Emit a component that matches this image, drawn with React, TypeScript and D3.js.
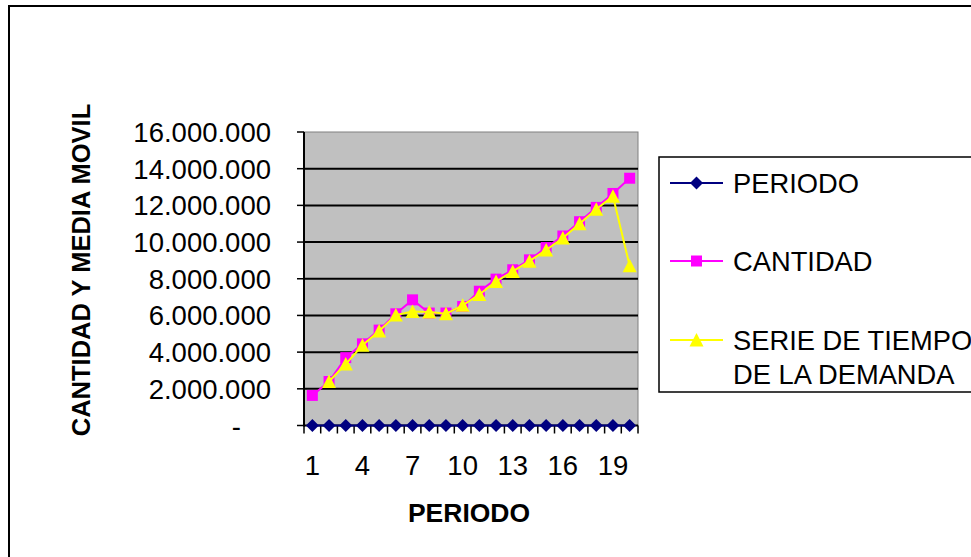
import React from "react";
import * as d3 from "d3";

const periods = [1, 2, 3, 4, 5, 6, 7, 8, 9, 10, 11, 12, 13, 14, 15, 16, 17, 18, 19, 20];
const periodoValues = [1, 2, 3, 4, 5, 6, 7, 8, 9, 10, 11, 12, 13, 14, 15, 16, 17, 18, 19, 20];
const cantidad = [
  1640000, 2400000, 3700000, 4450000, 5200000, 6090000, 6850000, 6130000, 6130000, 6490000,
  7320000, 7980000, 8490000, 9030000, 9700000, 10330000, 11110000, 11890000, 12650000, 13480000,
];
const serieTiempo: (number | null)[] = [
  null, 2400000, 3350000, 4370000, 5150000, 6020000, 6220000, 6190000, 6090000, 6550000,
  7140000, 7850000, 8400000, 8960000, 9570000, 10220000, 11000000, 11790000, 12500000, 8710000,
];
const yTicks = [0, 2000000, 4000000, 6000000, 8000000, 10000000, 12000000, 14000000, 16000000];
const xTickLabels = [1, 4, 7, 10, 13, 16, 19];
const legendLabels = [["PERIODO"], ["CANTIDAD"], ["SERIE DE TIEMPO", "DE LA DEMANDA"]];
const yTitle = "CANTIDAD Y MEDIA MOVIL";
const xTitle = "PERIODO";

const FONT = "'Liberation Sans', Arial, sans-serif";
const NAVY = "#000080";
const MAGENTA = "#FF00FF";
const YELLOW = "#FFFF00";

const locale = d3.formatLocale({ decimal: ",", thousands: ".", grouping: [3], currency: ["", ""] });
const fmt = locale.format(",d");

const diamond = (x: number, y: number) => `M${x},${y - 6.5}L${x + 6.5},${y}L${x},${y + 6.5}L${x - 6.5},${y}Z`;
const square = (x: number, y: number) => `M${x - 5.5},${y - 5.5}h11v11h-11Z`;
const triangle = (x: number, y: number) => `M${x},${y - 7}L${x + 7},${y + 6.5}L${x - 7},${y + 6.5}Z`;

export default function App() {
  const L = 304, R = 638, T = 132, B = 425.5;
  const x = d3.scaleBand<number>().domain(periods).range([L, R]).paddingInner(0).paddingOuter(0);
  const cx = (p: number) => (x(p) as number) + x.bandwidth() / 2;
  const y = d3.scaleLinear().domain([0, 16000000]).range([B, T]);

  const line = d3
    .line<[number, number | null]>()
    .defined((d) => d[1] !== null)
    .x((d) => cx(d[0]))
    .y((d) => y(d[1] as number));

  const pData = periods.map((p, i) => [p, periodoValues[i]] as [number, number | null]);
  const cData = periods.map((p, i) => [p, cantidad[i]] as [number, number | null]);
  const sData = periods.map((p, i) => [p, serieTiempo[i]] as [number, number | null]);

  const boundaries = periods.map((p) => x(p) as number).concat([R]);

  const legX1 = 670, legX2 = 723, legTextX = 733;
  const legRows = [183, 261, 340];
  const legMarkers = [diamond, square, triangle];
  const legColors = [NAVY, MAGENTA, YELLOW];

  return (
    <svg
      width={971}
      height={557}
      style={{ position: "absolute", left: 0, top: 0, background: "#fff" }}
      fontFamily={FONT}
    >
      <rect x={0} y={0} width={971} height={557} fill="#fff" />
      <rect x={9} y={6} width={990} height={600} fill="none" stroke="#000" strokeWidth={2} />

      {/* plot area */}
      <rect x={L} y={T} width={R - L} height={B - T} fill="#C0C0C0" stroke="#808080" strokeWidth={1} />
      {yTicks
        .filter((t) => t > 0 && t < 16000000)
        .map((t) => (
          <line key={t} x1={L} x2={R} y1={y(t)} y2={y(t)} stroke="#000" strokeWidth={2} />
        ))}

      {/* y axis */}
      <line x1={L} x2={L} y1={T} y2={B + 1} stroke="#000" strokeWidth={2} />
      {yTicks.map((t) => (
        <g key={t}>
          <line x1={L - 7} x2={L} y1={y(t)} y2={y(t)} stroke="#000" strokeWidth={1.5} />
          <text
            x={t === 0 ? 241 : 271}
            y={y(t) + 10}
            textAnchor="end"
            fontSize={27.5}
            fill="#000"
          >
            {t === 0 ? "-" : fmt(t)}
          </text>
        </g>
      ))}

      {/* x axis */}
      <line x1={L} x2={R} y1={B} y2={B} stroke="#000" strokeWidth={2} />
      {boundaries.map((b, i) => (
        <line key={i} x1={b} x2={b} y1={B} y2={B + 8} stroke="#000" strokeWidth={1.5} />
      ))}
      {xTickLabels.map((p) => (
        <text key={p} x={cx(p)} y={475} textAnchor="middle" fontSize={27.5} fill="#000">
          {p}
        </text>
      ))}

      {/* series */}
      <path d={line(pData) || ""} fill="none" stroke={NAVY} strokeWidth={2} />
      {pData.map((d) => (
        <path key={"p" + d[0]} d={diamond(cx(d[0]), y(d[1] as number))} fill={NAVY} />
      ))}
      <path d={line(cData) || ""} fill="none" stroke={MAGENTA} strokeWidth={2} />
      {cData.map((d) => (
        <path key={"c" + d[0]} d={square(cx(d[0]), y(d[1] as number))} fill={MAGENTA} />
      ))}
      <path d={line(sData) || ""} fill="none" stroke={YELLOW} strokeWidth={2} />
      {sData
        .filter((d) => d[1] !== null)
        .map((d) => (
          <path key={"s" + d[0]} d={triangle(cx(d[0]), y(d[1] as number))} fill={YELLOW} />
        ))}

      {/* titles */}
      <text
        transform={`translate(90,270) rotate(-90)`}
        textAnchor="middle"
        fontSize={25.5}
        fontWeight="bold"
        fill="#000"
      >
        {yTitle}
      </text>
      <text x={469} y={522} textAnchor="middle" fontSize={26.5} fontWeight="bold" fill="#000">
        {xTitle}
      </text>

      {/* legend */}
      <rect x={659} y={157} width={330} height={235} fill="#fff" stroke="#000" strokeWidth={1.5} />
      {legendLabels.map((lines, i) => (
        <g key={i}>
          <line x1={legX1} x2={legX2} y1={legRows[i]} y2={legRows[i]} stroke={legColors[i]} strokeWidth={2} />
          <path d={legMarkers[i]((legX1 + legX2) / 2, legRows[i])} fill={legColors[i]} />
          {lines.map((s, j) => (
            <text
              key={j}
              x={legTextX}
              y={legRows[i] + 10 + j * 33.5}
              fontSize={27.3}
              fill="#000"
            >
              {s}
            </text>
          ))}
        </g>
      ))}
    </svg>
  );
}
